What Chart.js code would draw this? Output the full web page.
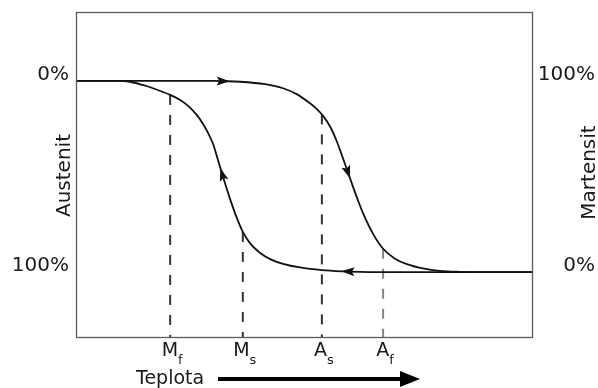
<!DOCTYPE html>
<html><head><meta charset="utf-8">
<script src="https://cdn.jsdelivr.net/npm/chart.js@4/dist/chart.umd.min.js"></script>
<style>html,body{margin:0;padding:0;background:#fff;}canvas{display:block;}</style>
</head><body>
<canvas id="c" width="598" height="388"></canvas>
<script>
// Temperature (arbitrary units, 0..100) and austenite fraction (0..1)
const heatingT = [0, 30.0, 32.2, 35.9, 41.4, 45.3, 48.4, 51.2, 52.7, 53.8, 55.6, 57.1, 58.2, 59.5, 60.6, 61.7, 62.8, 65.0, 67.2, 69.8, 72.4, 75.9, 79.6, 84.0, 88.0, 100];
const heatingF = [0, 0, 0.001, 0.004, 0.017, 0.038, 0.07, 0.117, 0.147, 0.175, 0.238, 0.318, 0.39, 0.478, 0.553, 0.625, 0.692, 0.80, 0.878, 0.93, 0.959, 0.981, 0.994, 0.999, 1, 1];
const coolingT = [0, 9.4, 11.8, 14.6, 17.3, 20.6, 22.8, 24.7, 26.5, 27.8, 28.9, 30.0, 30.9, 31.5, 32.0, 32.8, 33.7, 35.0, 36.5, 38.1, 40.3, 42.7, 45.3, 49.0, 53.8, 58.9, 59.5, 62.1, 66.0, 100];
const coolingF = [0, 0, 0.004, 0.021, 0.042, 0.073, 0.10, 0.134, 0.18, 0.225, 0.272, 0.33, 0.40, 0.448, 0.488, 0.55, 0.617, 0.705, 0.79, 0.85, 0.90, 0.935, 0.957, 0.976, 0.99, 0.997, 0.9975, 0.999, 1, 1];

// Arrow markers (temperature where an arrow sits on each branch)
const heatingArrowT = [32.2, 59.5];
const coolingArrowT = [59.5, 32.0];

// Transformation temperatures
const markerNames = ['M', 'M', 'A', 'A'];
const markerSubs  = ['f', 's', 's', 'f'];
const markerT     = [20.6, 36.5, 53.8, 67.2];
const markerBranch = ['cooling', 'cooling', 'heating', 'heating'];

// Axis ticks
const tickValues = [0, 1];
const leftTickLabels = ['0%', '100%'];
const rightTickLabels = ['100%', '0%'];
const leftTitle = 'Austenit';
const rightTitle = 'Martensit';
const xTitle = 'Teplota';

const Y_MIN = -0.361, Y_MAX = 1.34;
const FONT = "'DejaVu Sans', sans-serif";
const TEXT = '#1a1a1a';

const toXY = (ts, fs) => ts.map((t, i) => ({x: t, y: fs[i]}));
const branch = {heating: [heatingT, heatingF], cooling: [coolingT, coolingF]};

const dashSets = markerT.map((t, i) => {
  const [ts, fs] = branch[markerBranch[i]];
  const f = fs[ts.indexOf(t)];
  return {
    data: [{x: t, y: f}, {x: t, y: Y_MAX}],
    borderColor: i === 3 ? '#858585' : '#333333',
    borderWidth: 2,
    borderDash: [10, 10],
    pointRadius: 0,
    tension: 0,
    fill: false
  };
});

const datasets = [
  {data: toXY(heatingT, heatingF), borderColor: '#111', borderWidth: 1.8, pointRadius: 0,
   cubicInterpolationMode: 'monotone', fill: false},
  {data: toXY(coolingT, coolingF), borderColor: '#111', borderWidth: 1.8, pointRadius: 0,
   cubicInterpolationMode: 'monotone', fill: false},
  ...dashSets
];

function drawArrow(ctx, x, y, dx, dy) {
  const len = Math.hypot(dx, dy) || 1;
  dx /= len; dy /= len;
  const nx = -dy, ny = dx;
  const L = 13, W = 4.5;
  const tx = x + dx * L / 2, ty = y + dy * L / 2;
  const bx = x - dx * L / 2, by = y - dy * L / 2;
  ctx.beginPath();
  ctx.moveTo(tx, ty);
  ctx.lineTo(bx + nx * W, by + ny * W);
  ctx.lineTo(bx + dx * 2.5, by + dy * 2.5);
  ctx.lineTo(bx - nx * W, by - ny * W);
  ctx.closePath();
  ctx.fillStyle = '#111';
  ctx.fill();
}

const decor = {
  id: 'decor',
  afterDatasetsDraw(chart) {
    const ctx = chart.ctx, a = chart.chartArea;
    const xs = chart.scales.x, ys = chart.scales.y;
    ctx.save();
    // frame
    ctx.strokeStyle = '#5a5a5a';
    ctx.lineWidth = 1.3;
    ctx.strokeRect(Math.round(a.left) + 0.5, Math.round(a.top) + 0.5,
                   Math.round(a.right - a.left) - 1, Math.round(a.bottom - a.top));
    // arrows on branches
    const arrowsFor = (dsIndex, ts, list, sign) => {
      const meta = chart.getDatasetMeta(dsIndex);
      list.forEach(t => {
        const i = ts.indexOf(t);
        const el = meta.data[i];
        let dx, dy;
        if (el.cp1x !== undefined && el.cp2x !== undefined) {
          dx = el.cp2x - el.cp1x; dy = el.cp2y - el.cp1y;
        } else {
          const p = meta.data[i - 1], n = meta.data[i + 1];
          dx = n.x - p.x; dy = n.y - p.y;
        }
        drawArrow(ctx, el.x, el.y, dx * sign, dy * sign);
      });
    };
    arrowsFor(0, heatingT, heatingArrowT, 1);
    arrowsFor(1, coolingT, coolingArrowT, -1);

    // transformation temperature labels
    ctx.fillStyle = TEXT;
    ctx.textBaseline = 'alphabetic';
    ctx.textAlign = 'left';
    markerT.forEach((t, i) => {
      const px = xs.getPixelForValue(t);
      ctx.font = '19px ' + FONT;
      const wm = ctx.measureText(markerNames[i]).width;
      ctx.font = '13px ' + FONT;
      const wsub = ctx.measureText(markerSubs[i]).width;
      const x0 = px - (wm + wsub) / 2 + 2;
      ctx.font = '19px ' + FONT;
      ctx.fillText(markerNames[i], x0, a.bottom + 19);
      ctx.font = '13px ' + FONT;
      ctx.fillText(markerSubs[i], x0 + wm, a.bottom + 27);
    });

    // rotated axis titles
    ctx.font = '20px ' + FONT;
    ctx.textAlign = 'center';
    ctx.textBaseline = 'alphabetic';
    ctx.save();
    ctx.translate(70, ys.getPixelForValue(0.5) - 1);
    ctx.rotate(-Math.PI / 2);
    ctx.fillText(leftTitle, 0, 0);
    ctx.restore();
    ctx.save();
    ctx.translate(595, ys.getPixelForValue(0.5) - 4);
    ctx.rotate(-Math.PI / 2);
    ctx.fillText(rightTitle, 0, 0);
    ctx.restore();

    // x title with arrow
    ctx.font = '19px ' + FONT;
    ctx.textAlign = 'left';
    ctx.fillText(xTitle, 136, 384);
    ctx.strokeStyle = '#000';
    ctx.lineWidth = 4;
    ctx.beginPath();
    ctx.moveTo(218, 379);
    ctx.lineTo(404, 379);
    ctx.stroke();
    ctx.fillStyle = '#000';
    ctx.beginPath();
    ctx.moveTo(420, 379);
    ctx.lineTo(400, 371);
    ctx.lineTo(400, 387);
    ctx.closePath();
    ctx.fill();
    ctx.restore();
  }
};

const yCommon = {
  min: Y_MIN, max: Y_MAX, reverse: true,
  grid: {display: false, drawTicks: false},
  border: {display: false},
  afterBuildTicks: s => { s.ticks = tickValues.map(v => ({value: v})); }
};

new Chart(document.getElementById('c'), {
  type: 'line',
  data: {datasets},
  options: {
    responsive: false,
    devicePixelRatio: 1,
    animation: false,
    layout: {padding: {top: 12, bottom: 51, left: 0, right: 3}},
    plugins: {legend: {display: false}, tooltip: {enabled: false}},
    scales: {
      x: {type: 'linear', min: 0, max: 100, display: false},
      y: Object.assign({}, yCommon, {
        position: 'left',
        afterFit: s => { s.width = 76; s.paddingTop = 0; s.paddingBottom = 0; },
        ticks: {
          autoSkip: false, padding: 7, labelOffset: -6, color: TEXT,
          font: {family: FONT, size: 20},
          callback: v => leftTickLabels[tickValues.indexOf(v)]
        }
      }),
      y2: Object.assign({}, yCommon, {
        position: 'right',
        afterFit: s => { s.width = 62; s.paddingTop = 0; s.paddingBottom = 0; },
        ticks: {
          autoSkip: false, padding: 5, labelOffset: -6, color: TEXT, crossAlign: 'far',
          font: {family: FONT, size: 20},
          callback: v => rightTickLabels[tickValues.indexOf(v)]
        }
      })
    }
  },
  plugins: [decor]
});
</script>
</body></html>
